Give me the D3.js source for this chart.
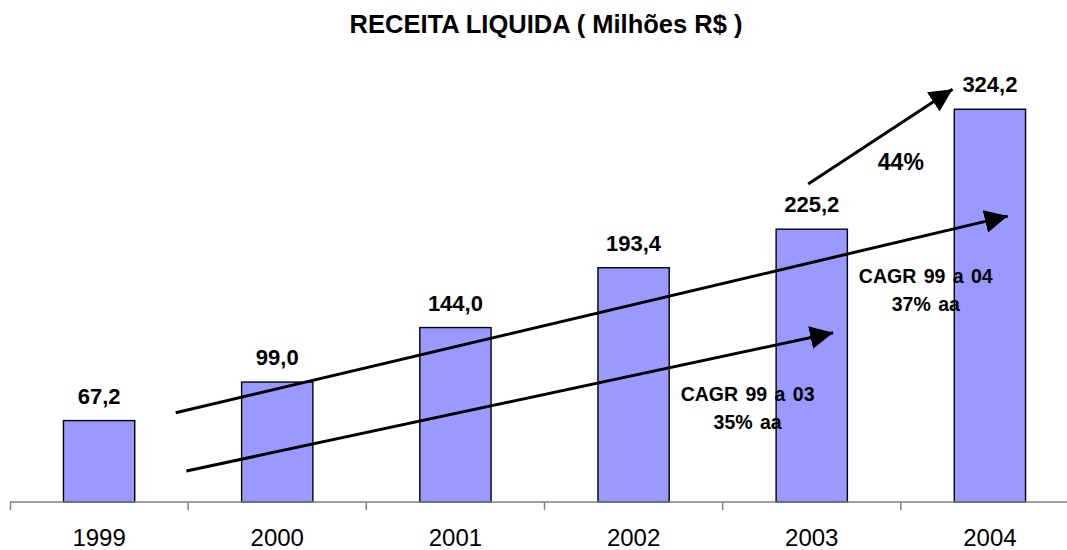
<!DOCTYPE html>
<html>
<head>
<meta charset="utf-8">
<script src="https://cdn.jsdelivr.net/npm/d3@7"></script>
<style>
  body { margin: 0; background: #fff; }
  svg { font-family: "Liberation Sans", Arial, sans-serif; }
</style>
</head>
<body>
<div id="chart"></div>
<script>
const years = ['1999', '2000', '2001', '2002', '2003', '2004'];
const receita = [67.2, 99.0, 144.0, 193.4, 225.2, 324.2];
const valueLabels = ['67,2', '99,0', '144,0', '193,4', '225,2', '324,2'];

// arrows in chart units: x = year index, y = value
const arrowFrom = [[0.43, 73.7], [0.49, 25.6], [3.98, 262.4]];
const arrowTo = [[5.10, 236.0], [4.12, 139.7], [4.79, 340.8]];
const notes = [
  {lines: ['CAGR 99 a 04', '37% aa'], at: [4.64, 180.5]},
  {lines: ['CAGR 99 a 03', '35% aa'], at: [3.64, 83]},
  {lines: ['44%'], at: [4.5, 274]}
];

const width = 1067;
const height = 550;
const baseY = 502;

const svg = d3.select('#chart').append('svg')
  .attr('width', width)
  .attr('height', height);

const xScale = d3.scaleBand()
  .domain(years)
  .range([10, 1079])
  .paddingInner(0.6)
  .paddingOuter(0.3);

const yScale = d3.scaleLinear()
  .domain([0, 350])
  .range([baseY, baseY - 424]);

const xIdx = d3.scaleLinear()
  .domain([0, years.length - 1])
  .range([xScale(years[0]) + xScale.bandwidth() / 2, xScale(years[5]) + xScale.bandwidth() / 2]);

// title
svg.append('text')
  .attr('x', 546)
  .attr('y', 33)
  .attr('text-anchor', 'middle')
  .attr('font-size', 25.5)
  .attr('font-weight', 'bold')
  .text('RECEITA LIQUIDA ( Milhões R$ )');

// bars
svg.selectAll('rect.bar')
  .data(receita)
  .enter()
  .append('rect')
  .attr('class', 'bar')
  .attr('x', (d, i) => xScale(years[i]))
  .attr('y', d => yScale(d))
  .attr('width', xScale.bandwidth())
  .attr('height', d => baseY - yScale(d))
  .attr('fill', '#9999ff')
  .attr('stroke', '#000')
  .attr('stroke-width', 1.4);

svg.selectAll('text.val')
  .data(receita)
  .enter()
  .append('text')
  .attr('class', 'val')
  .attr('x', (d, i) => xScale(years[i]) + xScale.bandwidth() / 2)
  .attr('y', d => yScale(d) - 17)
  .attr('text-anchor', 'middle')
  .attr('font-size', 22)
  .attr('font-weight', 'bold')
  .text((d, i) => valueLabels[i]);

// x axis: line + boundary ticks
const step = xScale.step();
const axis = svg.append('g');
axis.append('line')
  .attr('x1', 10).attr('x2', 1079)
  .attr('y1', baseY).attr('y2', baseY)
  .attr('stroke', '#808080').attr('stroke-width', 1.5);
axis.selectAll('line.tick')
  .data(d3.range(years.length + 1))
  .enter()
  .append('line')
  .attr('class', 'tick')
  .attr('x1', i => 10 + i * step + (i === 0 ? 0.5 : 0))
  .attr('x2', i => 10 + i * step + (i === 0 ? 0.5 : 0))
  .attr('y1', baseY).attr('y2', baseY + 8)
  .attr('stroke', '#808080').attr('stroke-width', 1.5);

const xAxis = d3.axisBottom(xScale).tickSize(0).tickPadding(0);
const xg = svg.append('g')
  .attr('transform', `translate(0, ${baseY + 44})`)
  .call(xAxis);
xg.select('.domain').remove();
xg.selectAll('text')
  .attr('font-size', 24)
  .attr('font-family', '"Liberation Sans", Arial, sans-serif')
  .attr('fill', '#000')
  .attr('dy', 0);

// arrows
svg.append('defs').append('marker')
  .attr('id', 'head')
  .attr('viewBox', '0 0 20 20')
  .attr('refX', 20).attr('refY', 10)
  .attr('markerWidth', 23).attr('markerHeight', 23)
  .attr('markerUnits', 'userSpaceOnUse')
  .attr('orient', 'auto')
  .append('path')
  .attr('d', 'M0,0 L20,10 L0,20 Z')
  .attr('fill', '#000');

svg.selectAll('line.arrow')
  .data(arrowFrom)
  .enter()
  .append('line')
  .attr('class', 'arrow')
  .attr('x1', d => xIdx(d[0]))
  .attr('y1', d => yScale(d[1]))
  .attr('x2', (d, i) => xIdx(arrowTo[i][0]))
  .attr('y2', (d, i) => yScale(arrowTo[i][1]))
  .attr('stroke', '#000')
  .attr('stroke-width', 3)
  .attr('marker-end', 'url(#head)');

// notes
notes.forEach(n => {
  const t = svg.append('text')
    .attr('x', xIdx(n.at[0]))
    .attr('y', yScale(n.at[1]))
    .attr('text-anchor', 'middle')
    .attr('font-weight', 'bold')
    .attr('font-size', n.lines.length === 1 ? 23 : 19.5)
    .attr('word-spacing', n.lines.length === 1 ? 0 : 2);
  n.lines.forEach((l, k) => {
    t.append('tspan')
      .attr('x', xIdx(n.at[0]))
      .attr('dy', k === 0 ? 0 : 28)
      .text(l);
  });
});
</script>
</body>
</html>
